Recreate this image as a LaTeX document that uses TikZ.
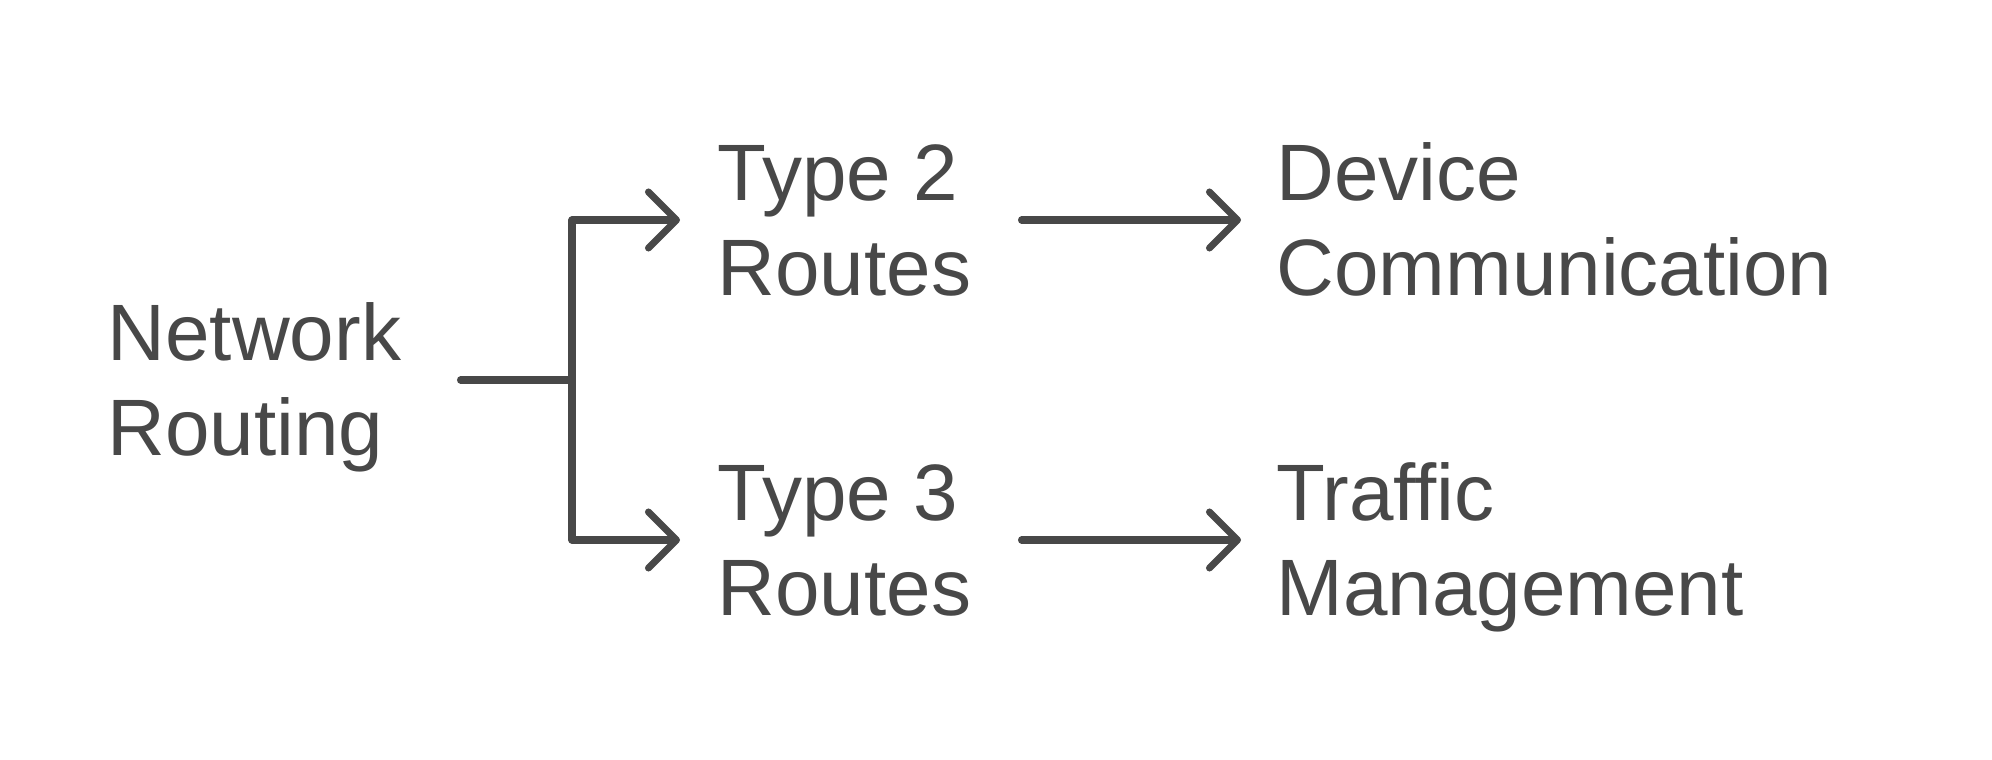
\documentclass[tikz,border=0pt]{standalone}
\usepackage{fontspec}
\setmainfont{Liberation Sans}
\usetikzlibrary{arrows.meta}
\definecolor{ink}{RGB}{72,72,72}

\begin{document}
\begin{tikzpicture}[
       ink,
       topic/.style={
         anchor=north west,
         align=left,
         inner sep=0pt,
         text=ink,
         font=\fontsize{22.76pt}{27.03pt}\selectfont
       },
       link/.style={
         draw=ink,
         line width=2pt,
         line cap=round,
         line join=round
       },
       tip/.style={
         -{Straight Barb[length=2.8mm,width=5.6mm,round]}
       }
     ]

       \useasboundingbox (0,0) rectangle (19.92,-7.60);

       \node (net) at (1.07,-2.935) [topic]{\strut Network\\\strut Routing};
       \node (t2) at (7.17,-1.335) [topic]{\strut Type 2\\\strut Routes};
       \node (t3) at (7.17,-4.535) [topic]{\strut Type 3\\\strut Routes};
       \node (dev) at (12.76,-1.335) [topic]{\strut Device\\\strut Communication};
       \node (traf) at (12.76,-4.535) [topic]{\strut Traffic\\\strut Management};

       \coordinate (root) at (4.605,-3.80);
       \coordinate (fork) at (5.72,-3.80);
       \coordinate (t2in) at (6.80,-2.20);
       \coordinate (t3in) at (6.80,-5.40);
       \coordinate (t2out) at (10.215,-2.20);
       \coordinate (t3out) at (10.215,-5.40);
       \coordinate (devin) at (12.41,-2.20);
       \coordinate (trafin) at (12.41,-5.40);

       \draw[link,tip] (root) -- (fork) |- (t2in);
       \draw[link,tip] (fork) |- (t3in);

       \draw[link,tip] (t2out) -- (devin);
       \draw[link,tip] (t3out) -- (trafin);

\end{tikzpicture}
\end{document}
